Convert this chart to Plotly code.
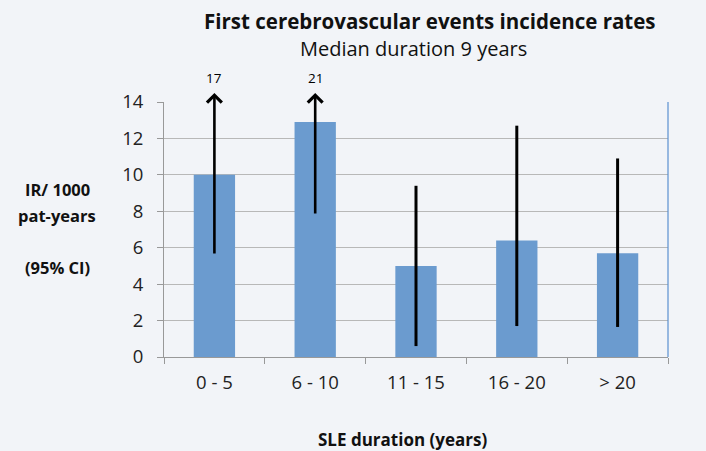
import plotly.graph_objects as go

categories = ["0 - 5", "6 - 10", "11 - 15", "16 - 20", "> 20"]
ir_values = [10.0, 12.9, 5.0, 6.4, 5.7]
ci_lower = [5.6, 7.8, 0.6, 1.7, 1.65]
ci_upper = [17, 21, 9.4, 12.7, 10.9]
y_max = 14
arrow_tip = 14.5

title_text = "First cerebrovascular events incidence rates"
subtitle_text = "Median duration 9 years"
y_title_lines = ["IR/ 1000", "pat-years", "(95% CI)"]
x_title_text = "SLE duration (years)"

FONT = "Open Sans"
W, H = 706, 451
L, R, T, B = 164, 38, 102, 94


def paper(x, y):
    return (x - L) / (W - L - R), (H - B - y) / (H - T - B)


err_plus = [(u - v) if u <= y_max else 0 for u, v in zip(ci_upper, ir_values)]
err_minus = [(v - l) if u <= y_max else 0 for u, v, l in zip(ci_upper, ir_values, ci_lower)]

fig = go.Figure()
fig.add_trace(go.Bar(
    x=categories, y=ir_values,
    marker=dict(color="#6b9bcf", line=dict(width=0)),
    error_y=dict(type="data", symmetric=False, array=err_plus, arrayminus=err_minus,
                 color="black", thickness=3, width=0),
    width=0.41,
    cliponaxis=False,
    hoverinfo="skip",
))

annotations = []
for i, (u, l) in enumerate(zip(ci_upper, ci_lower)):
    if u > y_max:
        annotations.append(dict(
            x=i, y=arrow_tip, ax=i, ay=l, xref="x", yref="y", axref="x", ayref="y",
            text="", showarrow=True, arrowhead=4, arrowsize=1.1, arrowwidth=2.6, arrowcolor="black",
        ))
        annotations.append(dict(
            x=i, y=y_max, xref="x", yref="y", text=str(u), showarrow=False,
            yanchor="middle", yshift=24, font=dict(family=FONT, size=13.5, color="black"),
        ))


def text_ann(text, x, y, size, bold=False):
    xx, yy = paper(x, y)
    return dict(x=xx, y=yy, xref="paper", yref="paper", xanchor="center", yanchor="middle",
                text=f"<b>{text}</b>" if bold else text, showarrow=False,
                font=dict(family=FONT, size=size, color="#111"))


annotations.append(text_ann(title_text, 430, 21, 20.5, bold=True))
annotations.append(text_ann(subtitle_text, 413, 48, 20))
for line, yy in zip(y_title_lines, [189, 215, 267]):
    annotations.append(text_ann(line, 57, yy, 16.5, bold=True))
annotations.append(text_ann(x_title_text, 402, 439, 17, bold=True))

fig.update_layout(
    width=W, height=H,
    margin=dict(l=L, r=R, t=T, b=B),
    paper_bgcolor="#f2f4f8", plot_bgcolor="#f2f4f8",
    showlegend=False,
    annotations=annotations,
    font=dict(family=FONT, color="#222"),
    xaxis=dict(type="category", tickson="boundaries", ticks="outside", ticklen=6, tickcolor="#999",
               showline=True, linecolor="#999", linewidth=1, showgrid=False,
               ticklabelstandoff=9,
               tickfont=dict(family=FONT, size=18.5, color="#222"), range=[-0.5, 4.5]),
    yaxis=dict(range=[0, y_max], dtick=2, ticks="outside", ticklen=6, tickcolor="#999",
               showline=True, linecolor="#999", linewidth=1, gridcolor="#b8b8b8", gridwidth=1,
               ticklabelstandoff=10,
               zeroline=False, tickfont=dict(family=FONT, size=18.5, color="#222")),
    shapes=[dict(type="line", xref="paper", yref="paper", x0=1, x1=1, y0=0, y1=1,
                 line=dict(color="#5a8fd0", width=1.2))],
)

fig.write_html("out.html",
               config=dict(displayModeBar=False),
               post_script="document.body.style.margin='0';document.body.style.background='#f2f4f8';")
